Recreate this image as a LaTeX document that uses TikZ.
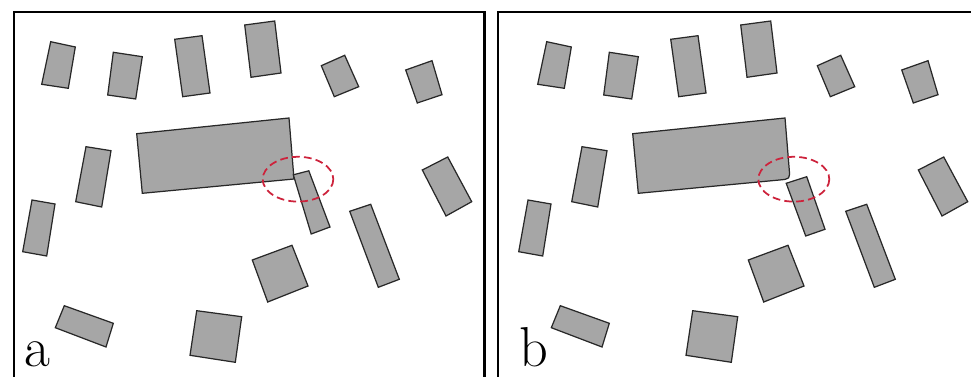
\documentclass[tikz,border=0pt]{standalone}
\usetikzlibrary{calc}
\definecolor{bldg}{RGB}{166,166,166}
\definecolor{edge}{RGB}{40,40,40}
\definecolor{ringred}{RGB}{205,35,60}
\tikzset{
  bldgshape/.style={fill=bldg,draw=edge,line width=0.35pt,line join=miter},
  framestyle/.style={line width=0.7pt,draw=black},
  ringstyle/.style={draw=ringred,line width=0.5pt,dash pattern=on 2.2pt off 1.2pt},
  panellabel/.style={inner sep=0pt,anchor=base west,font=\fontsize{16}{18}\selectfont}
}
\newcommand\sharedbldgs{%
  \draw[bldgshape] (50.7,41.7) -- (75.3,47) -- (68.3,88.3) -- (41.7,84.3) -- cycle;
  \draw[bldgshape] (113.3,52.3) -- (142.3,56.7) -- (135.7,99) -- (107.7,95) -- cycle;
  \draw[bldgshape] (174.7,39.3) -- (202,35.7) -- (210,93) -- (182.7,96.7) -- cycle;
  \draw[bldgshape] (244.7,25) -- (274.7,21) -- (281,73) -- (251,77.3) -- cycle;
  \draw[bldgshape] (321.3,65.7) -- (344.7,55.3) -- (358.7,86.7) -- (334.3,96.7) -- cycle;
  \draw[bldgshape] (405.7,70) -- (432,60.7) -- (442,94.7) -- (417.3,103) -- cycle;
  \draw[bldgshape] (86,146.7) -- (111,150.7) -- (101.7,207) -- (75.7,201.7) -- cycle;
  \draw[bldgshape] (32,200) -- (55,204) -- (46.7,256) -- (22.7,251.7) -- cycle;
  \draw[bldgshape] (422.3,170) -- (447.7,157) -- (471.7,201.7) -- (446,216) -- cycle;
  \draw[bldgshape] (349.7,211.3) -- (370.7,204.3) -- (399.3,279.3) -- (378.3,287.3) -- cycle;
  \draw[bldgshape] (252.3,260) -- (292,245.3) -- (308,286) -- (267.7,302) -- cycle;
  \draw[bldgshape] (64.3,305.7) -- (113.3,323.3) -- (106,347) -- (55.3,327.7) -- cycle;
  \draw[bldgshape] (196.7,310.7) -- (241.7,316.7) -- (235.3,362.3) -- (190,355.3) -- cycle;
}
\begin{document}
\begin{tikzpicture}[x=0.01cm,y=-0.01cm]
\useasboundingbox (0,0) rectangle (971,376);
% frames
\draw[framestyle] (14,380) -- (14,12) -- (484.5,12) -- (484.5,380);
\draw[framestyle] (498,380) -- (498,12) -- (975,12);
% panel a
\begin{scope}
  \sharedbldgs
  \draw[bldgshape] (136.7,133.7) -- (289,118) -- (294,179) -- (142.3,193.3) -- cycle;
  \draw[bldgshape] (293.3,174.8) -- (308.8,170.8) -- (330,227) -- (311.2,234) -- cycle;
  \draw[ringstyle] (298,179.2) ellipse [x radius=35.3, y radius=22.4];
\end{scope}
\node[panellabel] (labela) at (23.5,366.5) {a};
% panel b
\begin{scope}[shift={(496,0)}]
  \sharedbldgs
  \coordinate (p1) at (136.7,133.7);
  \coordinate (p2) at (289,118);
  \coordinate (p3) at (294,179);
  \coordinate (p4) at (142.3,193.3);
  \draw[bldgshape] (p1) -- (p2) -- ($(p3)!0.17!(p2)$) .. controls (p3) .. ($(p3)!0.07!(p4)$) -- (p4) -- cycle;
  \draw[bldgshape] (290.2,183.3) -- (310.7,176.7) -- (329,229.3) -- (309.7,236) -- cycle;
  \draw[ringstyle] (297.8,179.2) ellipse [x radius=35.5, y radius=22.4];
\end{scope}
\node[panellabel] (labelb) at (519,366.5) {b};
\end{tikzpicture}
\end{document}
